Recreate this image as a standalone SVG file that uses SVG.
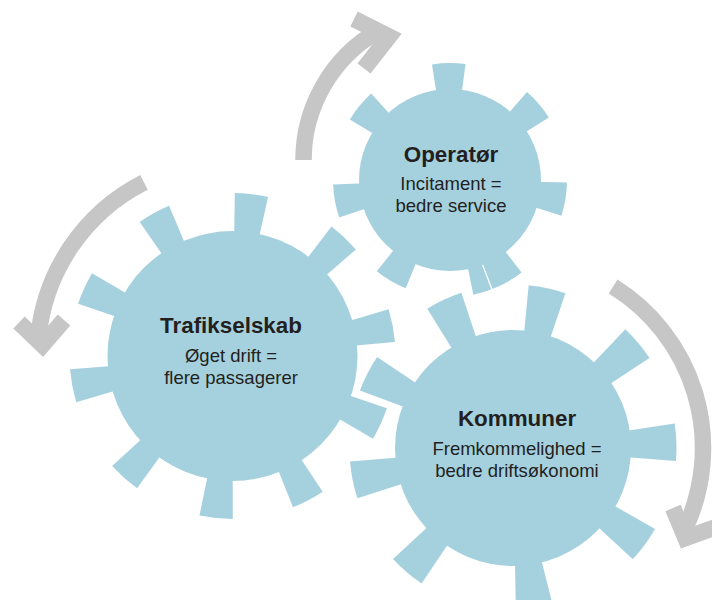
<svg xmlns="http://www.w3.org/2000/svg" xmlns:xlink="http://www.w3.org/1999/xlink" width="712" height="600" viewBox="0 0 712 600">
  <style>
    .gear { fill: #a5d1df; }
    .seam { stroke: #ffffff; stroke-width: 1.2; fill: none; }
    .arrow { fill: none; stroke: #c6c6c6; stroke-width: 16.5; stroke-linecap: butt; stroke-linejoin: miter; stroke-miterlimit: 10; }
    .title { font-family: "Liberation Sans", Arial, sans-serif; font-weight: bold; font-size: 22.4px; fill: #231f20; text-anchor: middle; }
    .sub { font-family: "Liberation Sans", Arial, sans-serif; font-size: 18.5px; fill: #231f20; text-anchor: middle; }
  </style>
  <defs>
    <!-- gear teeth, pointing along +x, rotated into place -->
    <path id="tooth-o" class="gear" d="M84.12,-12.20 L115.79,-16.79 A117,117 0 0 1 115.79,16.79 L84.12,12.20 Z"/>
    <path id="tooth-t" class="gear" d="M117.37,-12.13 L162.14,-16.75 A163,163 0 0 1 162.14,16.75 L117.37,12.13 Z"/>
    <path id="tooth-k" class="gear" d="M111.26,-12.87 L162.42,-18.79 A163.5,163.5 0 0 1 162.42,18.79 L111.26,12.87 Z"/>
  </defs>

  <!-- rotation arrows -->
  <g id="connectors">
    <path class="arrow" d="M303.5,160 A149,149 0 0 1 378,31"/>
    <polyline class="arrow" points="354,19 389,36.5 364,68.5"/>
    <path class="arrow" d="M144,182.3 A195,195 0 0 0 38.2,339"/>
    <polyline class="arrow" points="19,322.5 42.5,345 64,320"/>
    <path class="arrow" d="M613.1,286.5 A190,190 0 0 1 685.2,528.3"/>
    <polyline class="arrow" points="673,508 685.5,538 716,527"/>
  </g>

  <g id="trafikselskab">
    <g transform="translate(232.5,356)">
      <circle class="gear" r="125"/>
      <use xlink:href="#tooth-t" transform="rotate(-83.3)"/>
      <use xlink:href="#tooth-t" transform="rotate(-46.7)"/>
      <use xlink:href="#tooth-t" transform="rotate(-10.8)"/>
      <use xlink:href="#tooth-t" transform="rotate(24.6)"/>
      <use xlink:href="#tooth-t" transform="rotate(62.3)"/>
      <use xlink:href="#tooth-t" transform="rotate(95.8)"/>
      <use xlink:href="#tooth-t" transform="rotate(131.7)"/>
      <use xlink:href="#tooth-t" transform="rotate(169.4)"/>
      <use xlink:href="#tooth-t" transform="rotate(-155.4)"/>
      <use xlink:href="#tooth-t" transform="rotate(-118.8)"/>
    </g>
    <text class="title" x="231" y="333">Trafikselskab</text>
    <text class="sub" x="231" y="361.5">Øget drift =</text>
    <text class="sub" x="231" y="383.5">flere passagerer</text>
  </g>

  <g id="kommuner">
    <g transform="translate(513,448)">
      <circle class="gear" r="118"/>
      <use xlink:href="#tooth-k" transform="rotate(-152.8)"/>
      <use xlink:href="#tooth-k" transform="rotate(-115)"/>
      <use xlink:href="#tooth-k" transform="rotate(-77.9)"/>
      <use xlink:href="#tooth-k" transform="rotate(-40)"/>
      <use xlink:href="#tooth-k" transform="rotate(-2)"/>
      <use xlink:href="#tooth-k" transform="rotate(36.3)"/>
      <use xlink:href="#tooth-k" transform="rotate(82.4)"/>
      <use xlink:href="#tooth-k" transform="rotate(130.6)"/>
      <use xlink:href="#tooth-k" transform="rotate(168.7)"/>
    </g>
    <text class="title" x="517" y="426">Kommuner</text>
    <text class="sub" x="517" y="454.5">Fremkommelighed =</text>
    <text class="sub" x="517" y="477">bedre driftsøkonomi</text>
  </g>

  <g id="operatoer">
    <g transform="translate(450,180)">
      <circle class="gear" r="91"/>
      <use xlink:href="#tooth-o" transform="rotate(-140.6)"/>
      <use xlink:href="#tooth-o" transform="rotate(-90.6)"/>
      <use xlink:href="#tooth-o" transform="rotate(-40.6)"/>
      <use xlink:href="#tooth-o" transform="rotate(9.5)"/>
      <use xlink:href="#tooth-o" transform="rotate(60.5)"/>
      <use xlink:href="#tooth-o" transform="rotate(120.5)"/>
      <use xlink:href="#tooth-o" transform="rotate(169.5)"/>
      <path class="gear" d="M30.80,79.22 L42.40,109.04 A117,117 0 0 1 23.33,114.65 L16.95,83.29 Z"/>
      <line class="seam" x1="32.6" y1="85" x2="41.9" y2="109.2"/>
    </g>
    <text class="title" x="451" y="162">Operatør</text>
    <text class="sub" x="451" y="190">Incitament =</text>
    <text class="sub" x="451" y="212">bedre service</text>
  </g>
</svg>
